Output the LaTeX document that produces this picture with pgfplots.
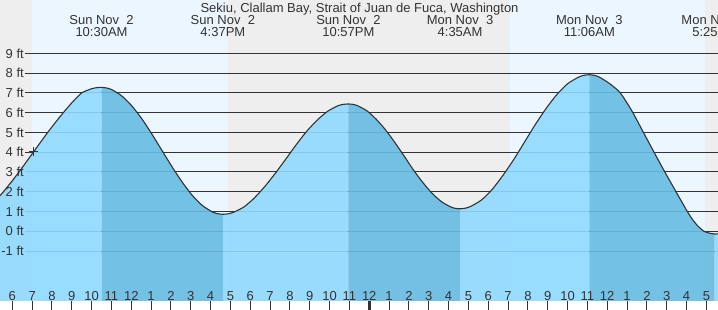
\documentclass[border=0pt]{standalone}
\usepackage{pgfplots}
\pgfplotsset{compat=1.18}
\usepackage{fontspec}
\setmainfont{Liberation Sans}
\definecolor{nightbg}{RGB}{238,238,238}
\definecolor{daybg}{RGB}{235,246,255}
\definecolor{risefill}{RGB}{144,218,255}
\definecolor{fallfill}{RGB}{102,188,227}
\definecolor{ink}{RGB}{51,51,51}
\begin{document}
\begin{tikzpicture}
\begin{axis}[
  at={(0,0)}, anchor=south west,
  scale only axis, width=718bp, height=301bp,
  xmin=5.38, xmax=41.587, ymin=-3.526, ymax=11.70,
  axis line style={draw=none},
  axis on top,
  ytick=\empty,
  xtick={6,...,41},
  xticklabels={6,7,8,9,10,11,12,1,2,3,4,5,6,7,8,9,10,11,12,1,2,3,4,5,6,7,8,9,10,11,12,1,2,3,4,5},
  xtick pos=bottom, tick align=outside, major tick length=9bp,
  tick style={color=ink, line width=1bp},
  xticklabel style={anchor=base, yshift=10bp, text=ink, font=\fontsize{13bp}{15bp}\selectfont},
  extra x ticks={24}, extra x tick labels={},
  extra x tick style={tick style={line width=3.3bp, color=ink}},
]
% day / night background
\addplot[fill=nightbg, draw=none] coordinates {(5.0,-5) (5.0,13) (6.98,13) (6.98,-5)};
\addplot[fill=daybg, draw=none] coordinates {(6.98,-5) (6.98,13) (16.89,13) (16.89,-5)};
\addplot[fill=nightbg, draw=none] coordinates {(16.89,-5) (16.89,13) (31.08,13) (31.08,-5)};
\addplot[fill=daybg, draw=none] coordinates {(31.08,-5) (31.08,13) (40.92,13) (40.92,-5)};
\addplot[fill=nightbg, draw=none] coordinates {(40.92,-5) (40.92,13) (42,13) (42,-5)};
% level lines
\pgfplotsinvokeforeach{-1,...,9}{
  \addplot[ink, line width=1bp] coordinates {(6.64,#1) (42,#1)};
}
% tide fills (rising light, falling dark)
\addplot[fill=risefill, fill opacity=0.9, draw=none] coordinates {
 (5.30,-5) (5.30,1.72) (5.38,1.80) (5.55,2) (5.95,2.49) (6.34,3) (6.7,3.5) (7.06,4) (7.42,4.5)
 (7.785,5) (8.17,5.5) (8.57,6) (9.03,6.53) (9.5,7) (10.0,7.21) (10.25,7.265) (10.5,7.28) (10.5,-5)};
\addplot[fill=fallfill, fill opacity=0.9, draw=none] coordinates {
 (10.5,-5) (10.5,7.28) (10.755,7.25) (11.01,7.17) (11.52,6.85) (12.03,6.34) (12.54,5.68) (13.05,4.90) (13.56,4.07)
 (14.07,3.24) (14.58,2.47) (15.09,1.80) (15.60,1.29) (16.11,0.97) (16.365,0.89) (16.62,0.86) (16.62,-5)};
\addplot[fill=risefill, fill opacity=0.9, draw=none] coordinates {
 (16.62,-5) (16.62,0.86) (16.885,0.885) (17.15,0.96) (17.68,1.23) (18.20,1.68) (18.73,2.26) (19.26,2.93) (19.79,3.65)
 (20.31,4.37) (20.84,5.05) (21.37,5.62) (21.90,6.07) (22.42,6.35) (22.685,6.42) (22.95,6.44) (22.95,-5)};
\addplot[fill=fallfill, fill opacity=0.9, draw=none] coordinates {
 (22.95,-5) (22.95,6.44) (23.185,6.42) (23.42,6.35) (23.89,6.09) (24.36,5.66) (24.83,5.12) (25.30,4.48) (25.77,3.79)
 (26.23,3.10) (26.70,2.47) (27.17,1.92) (27.64,1.50) (28.11,1.23) (28.345,1.16) (28.58,1.14) (28.58,-5)};
\addplot[fill=risefill, fill opacity=0.9, draw=none] coordinates {
 (28.58,-5) (28.58,1.14) (28.85,1.17) (29.12,1.26) (29.67,1.59) (30.21,2.13) (30.75,2.84) (31.30,3.65) (31.84,4.53)
 (32.38,5.41) (32.93,6.23) (33.47,6.93) (34.01,7.47) (34.56,7.80) (34.83,7.89) (35.1,7.92) (35.1,-5)};
\addplot[fill=fallfill, fill opacity=0.9, draw=none] coordinates {
 (35.1,-5) (35.1,7.92) (35.37,7.885) (35.64,7.78) (36.15,7.45) (36.66,7) (37.25,6.08) (37.8,5.05) (38.35,4.02) (38.9,3.01)
 (39.47,2) (40.04,1) (40.3,0.6) (40.55,0.29) (40.85,0.02) (41.1,-0.08) (41.42,-0.14) (41.42,-5)};
\addplot[fill=risefill, fill opacity=0.9, draw=none] coordinates {
 (41.42,-5) (41.42,-0.14) (41.7,-0.11) (41.7,-5)};
% tide curve
\addplot[ink, line width=1.1bp, smooth, tension=0.4] coordinates {
 (5.30,1.72) (5.38,1.80) (5.55,2) (5.95,2.49) (6.34,3) (6.7,3.5) (7.06,4) (7.42,4.5)
 (7.785,5) (8.17,5.5) (8.57,6) (9.03,6.53) (9.5,7) (10.0,7.21) (10.25,7.265) (10.5,7.28)
 (10.755,7.25) (11.01,7.17) (11.52,6.85) (12.03,6.34) (12.54,5.68) (13.05,4.90) (13.56,4.07)
 (14.07,3.24) (14.58,2.47) (15.09,1.80) (15.60,1.29) (16.11,0.97) (16.365,0.89) (16.62,0.86)
 (16.885,0.885) (17.15,0.96) (17.68,1.23) (18.20,1.68) (18.73,2.26) (19.26,2.93) (19.79,3.65)
 (20.31,4.37) (20.84,5.05) (21.37,5.62) (21.90,6.07) (22.42,6.35) (22.685,6.42) (22.95,6.44)
 (23.185,6.42) (23.42,6.35) (23.89,6.09) (24.36,5.66) (24.83,5.12) (25.30,4.48) (25.77,3.79)
 (26.23,3.10) (26.70,2.47) (27.17,1.92) (27.64,1.50) (28.11,1.23) (28.345,1.16) (28.58,1.14)
 (28.85,1.17) (29.12,1.26) (29.67,1.59) (30.21,2.13) (30.75,2.84) (31.30,3.65) (31.84,4.53)
 (32.38,5.41) (32.93,6.23) (33.47,6.93) (34.01,7.47) (34.56,7.80) (34.83,7.89) (35.1,7.92)
 (35.37,7.885) (35.64,7.78) (36.15,7.45) (36.66,7) (37.25,6.08) (37.8,5.05) (38.35,4.02) (38.9,3.01)
 (39.47,2) (40.04,1) (40.3,0.6) (40.55,0.29) (40.85,0.02) (41.1,-0.08) (41.42,-0.14) (41.7,-0.11)};
% current time marker
\addplot[ink, only marks, mark=+, mark size=4.5bp, mark options={line width=1bp}] coordinates {(7.07,4.03)};
% level labels
\pgfplotsinvokeforeach{-1,...,9}{
  \node[anchor=east, inner sep=0pt, text=ink, font=\fontsize{13bp}{15bp}\selectfont] at (axis cs:6.59,#1) {#1 ft};
}
% title and event labels
\node[anchor=base, inner sep=0pt, text=ink, font=\fontsize{13bp}{15bp}\selectfont] at (axis cs:23.51,11.07) {Sekiu, Clallam Bay, Strait of Juan de Fuca, Washington};
\node[anchor=base, inner sep=0pt, text=ink, font=\fontsize{13bp}{15bp}\selectfont] at (axis cs:10.5,10.44) {Sun Nov~~2};
\node[anchor=base, inner sep=0pt, text=ink, font=\fontsize{13bp}{15bp}\selectfont] at (axis cs:10.5,9.85) {10:30AM};
\node[anchor=base, inner sep=0pt, text=ink, font=\fontsize{13bp}{15bp}\selectfont] at (axis cs:16.62,10.44) {Sun Nov~~2};
\node[anchor=base, inner sep=0pt, text=ink, font=\fontsize{13bp}{15bp}\selectfont] at (axis cs:16.62,9.85) {4:37PM};
\node[anchor=base, inner sep=0pt, text=ink, font=\fontsize{13bp}{15bp}\selectfont] at (axis cs:22.95,10.44) {Sun Nov~~2};
\node[anchor=base, inner sep=0pt, text=ink, font=\fontsize{13bp}{15bp}\selectfont] at (axis cs:22.95,9.85) {10:57PM};
\node[anchor=base, inner sep=0pt, text=ink, font=\fontsize{13bp}{15bp}\selectfont] at (axis cs:28.58,10.44) {Mon Nov~~3};
\node[anchor=base, inner sep=0pt, text=ink, font=\fontsize{13bp}{15bp}\selectfont] at (axis cs:28.58,9.85) {4:35AM};
\node[anchor=base, inner sep=0pt, text=ink, font=\fontsize{13bp}{15bp}\selectfont] at (axis cs:35.1,10.44) {Mon Nov~~3};
\node[anchor=base, inner sep=0pt, text=ink, font=\fontsize{13bp}{15bp}\selectfont] at (axis cs:35.1,9.85) {11:06AM};
\node[anchor=base, inner sep=0pt, text=ink, font=\fontsize{13bp}{15bp}\selectfont] at (axis cs:41.42,10.44) {Mon Nov~~3};
\node[anchor=base, inner sep=0pt, text=ink, font=\fontsize{13bp}{15bp}\selectfont] at (axis cs:41.42,9.85) {5:25PM};
\end{axis}
\pgfresetboundingbox
\path (0,-9bp) rectangle (718bp,301bp);
\end{tikzpicture}
\end{document}
